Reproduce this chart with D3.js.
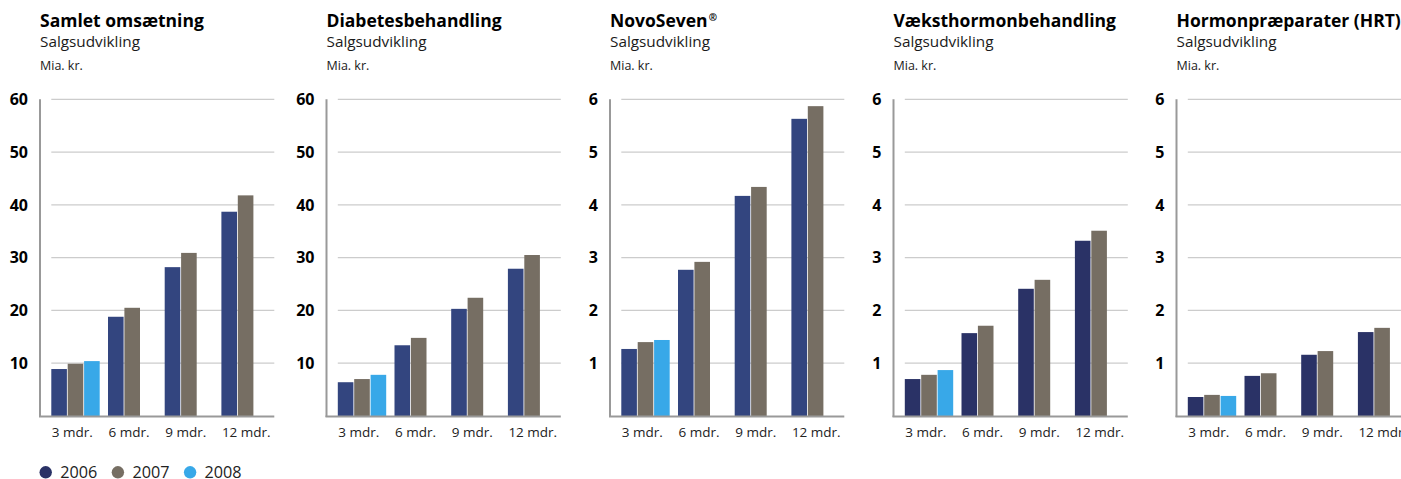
<!DOCTYPE html>
<html><head><meta charset="utf-8">
<script src="https://cdn.jsdelivr.net/npm/d3@7"></script>
<style>
html,body{margin:0;padding:0;background:#fff;}
svg{display:block;font-family:"Open Sans",sans-serif;}
</style></head>
<body>
<svg id="chart" width="1401" height="479"></svg>
<script>
// ---- data ----
const categories = ["3 mdr.", "6 mdr.", "9 mdr.", "12 mdr."];
const seriesNames = ["2006", "2007", "2008"];
const panelTitles = ["Samlet omsætning", "Diabetesbehandling", "NovoSeven", "Væksthormonbehandling", "Hormonpræparater (HRT)"];
const panelTitleMarks = ["", "", "®", "", ""];
const panelSubtitle = "Salgsudvikling";
const panelUnit = "Mia. kr.";
const panelMax = [60, 60, 6, 6, 6];
const ticksLarge = [10, 20, 30, 40, 50, 60];
const ticksSmall = [1, 2, 3, 4, 5, 6];

const samlet2006 = [8.9, 18.8, 28.2, 38.7];
const samlet2007 = [9.9, 20.5, 30.9, 41.8];
const samlet2008 = [10.4, null, null, null];

const diabetes2006 = [6.4, 13.4, 20.3, 27.9];
const diabetes2007 = [7.0, 14.8, 22.4, 30.5];
const diabetes2008 = [7.8, null, null, null];

const novoseven2006 = [1.27, 2.77, 4.17, 5.63];
const novoseven2007 = [1.40, 2.92, 4.34, 5.87];
const novoseven2008 = [1.44, null, null, null];

const vaekst2006 = [0.70, 1.57, 2.41, 3.32];
const vaekst2007 = [0.78, 1.71, 2.58, 3.51];
const vaekst2008 = [0.87, null, null, null];

const hrt2006 = [0.36, 0.76, 1.16, 1.59];
const hrt2007 = [0.40, 0.81, 1.23, 1.67];
const hrt2008 = [0.38, null, null, null];

const panelSeries = [
  [samlet2006, samlet2007, samlet2008],
  [diabetes2006, diabetes2007, diabetes2008],
  [novoseven2006, novoseven2007, novoseven2008],
  [vaekst2006, vaekst2007, vaekst2008],
  [hrt2006, hrt2007, hrt2008]
];

// ---- styles / layout ----
const colorsA = ["#33457f", "#766e63", "#38a8e8"];
const colorsB = ["#2a3266", "#766e63", "#38a8e8"];
const legendColors = ["#2a3266", "#766e63", "#38a8e8"];
const axisXs = [40, 326.5, 610, 893.5, 1176.5];
const yTop = 99.3, yBase = 416;

const svg = d3.select("#chart");

panelTitles.forEach((title, p) => {
  const ax = axisXs[p];
  const g = svg.append("g");
  const gridStart = ax + 11.3, gridEnd = gridStart + 223;
  const y = d3.scaleLinear().domain([0, panelMax[p]]).range([yBase, yTop]);
  const x = d3.scaleBand().domain(categories).range([gridStart, gridStart + 4 * 56.7]).paddingInner(0).paddingOuter(0);
  const xs = d3.scaleBand().domain(seriesNames).range([0, 3 * 16.4]).paddingInner(0);
  const cols = p < 3 ? colorsA : colorsB;
  const ticks = panelMax[p] === 60 ? ticksLarge : ticksSmall;

  // titles
  const t = g.append("text").attr("x", ax).attr("y", 27).attr("font-size", 17.5).attr("font-weight", 700).attr("fill", "#000").text(title);
  if (panelTitleMarks[p]) {
    t.append("tspan").attr("font-size", 10).attr("dy", -6).attr("dx", 1).text(panelTitleMarks[p]);
  }
  g.append("text").attr("x", ax).attr("y", 47).attr("font-size", 15.3).attr("fill", "#1a1a1a").text(panelSubtitle);
  g.append("text").attr("x", ax).attr("y", 70).attr("font-size", 12.5).attr("fill", "#1a1a1a").text(panelUnit);

  // gridlines
  g.selectAll(".grid").data(ticks).enter().append("line")
    .attr("x1", gridStart).attr("x2", gridEnd)
    .attr("y1", d => y(d)).attr("y2", d => y(d))
    .attr("stroke", "#cccccc").attr("stroke-width", 1.3);

  // y tick labels
  g.selectAll(".yl").data(ticks).enter().append("text")
    .attr("x", ax - 12).attr("y", d => y(d)).attr("dy", "0.36em")
    .attr("text-anchor", "end").attr("font-size", 16).attr("font-weight", 700).attr("fill", "#000")
    .text(d => d);

  // bars
  const seriesData = panelSeries[p];
  seriesNames.forEach((s, si) => {
    g.selectAll(".bar" + si).data(categories.map((c, ci) => ({c, v: seriesData[si][ci]})).filter(d => d.v != null))
      .enter().append("rect")
      .attr("x", d => x(d.c) + xs(s))
      .attr("width", 15.6)
      .attr("y", d => y(d.v))
      .attr("height", d => yBase - y(d.v))
      .attr("fill", cols[si]);
  });

  // axes
  g.append("line").attr("x1", ax).attr("x2", ax).attr("y1", yTop).attr("y2", yBase + 1)
    .attr("stroke", "#999").attr("stroke-width", 2);
  g.append("line").attr("x1", ax - 1).attr("x2", gridEnd).attr("y1", yBase + 0.5).attr("y2", yBase + 0.5)
    .attr("stroke", "#999").attr("stroke-width", 2);

  // x labels
  g.selectAll(".xl").data(categories).enter().append("text")
    .attr("x", d => x(d) + 0.5).attr("y", 436.5)
    .attr("font-size", 13.5).attr("fill", "#222")
    .text(d => d);
});

// legend
const lg = svg.append("g");
seriesNames.forEach((s, i) => {
  const cx = 45.7 + i * 72.2;
  lg.append("circle").attr("cx", cx).attr("cy", 472.3).attr("r", 6.2).attr("fill", legendColors[i]);
  lg.append("text").attr("x", cx + 14.5).attr("y", 477.5).attr("font-size", 16.2).attr("fill", "#222").text(s);
});
</script>
</body></html>
